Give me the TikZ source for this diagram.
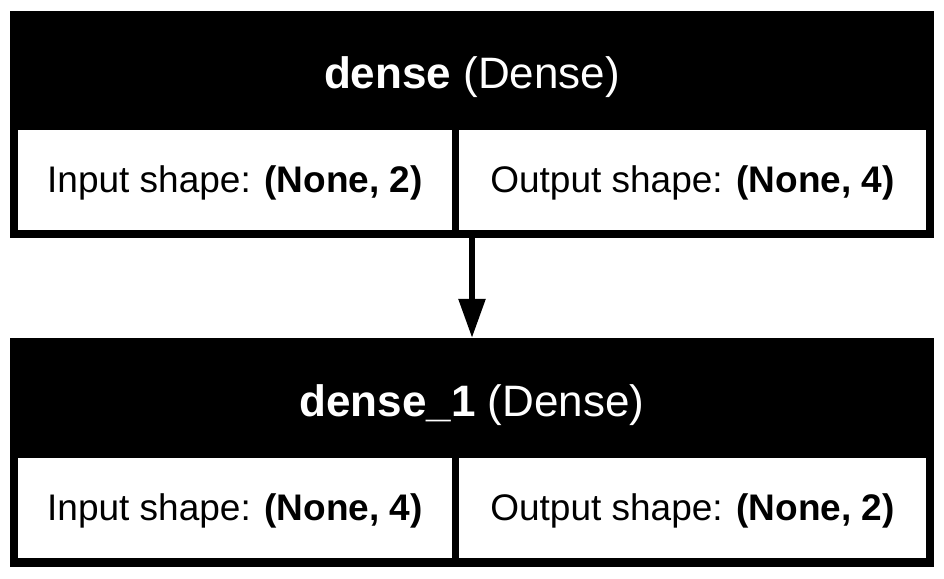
\documentclass[tikz,border=0pt]{standalone}
\usepackage{fontspec}
\setmainfont{Liberation Sans}
\usetikzlibrary{arrows.meta}

\tikzset{
  layerbox/.style={rectangle, fill=black, draw=none, inner sep=0pt,
    minimum width=924pt, anchor=center},
  cellbox/.style={rectangle, fill=white, draw=none, inner sep=0pt,
    minimum height=100pt, anchor=center},
  celltext/.style={inner sep=0pt, anchor=center, text=black,
    font=\fontsize{37}{44}\selectfont},
  titletext/.style={inner sep=0pt, anchor=center, text=white,
    font=\fontsize{44}{52}\selectfont},
  flow/.style={line width=5.7pt, -{Triangle[width=26pt,length=39pt]}}
}

\begin{document}
\begin{tikzpicture}[x=1pt,y=-1pt]
  \useasboundingbox[fill=white] (0,0) rectangle (944,578);

  % first layer
  \node[layerbox, minimum height=227pt] (l1) at (472,124.5) {};
  \node[titletext] (t1) at (472,77.5) {\textbf{dense} (Dense)};
  \node[cellbox, minimum width=434pt] (in1) at (235,180) {};
  \node[cellbox, minimum width=467pt] (out1) at (692.5,180) {};
  \node[celltext] (in1t) at (235,183) {Input shape: \textbf{(None, 2)}};
  \node[celltext] (out1t) at (692.5,183) {Output shape: \textbf{(None, 4)}};

  % second layer
  \node[layerbox, minimum height=229pt] (l2) at (472,452.5) {};
  \node[titletext] (t2) at (472,405) {\textbf{dense\_1} (Dense)};
  \node[cellbox, minimum width=434pt] (in2) at (235,508) {};
  \node[cellbox, minimum width=467pt] (out2) at (692.5,508) {};
  \node[celltext] (in2t) at (235,511) {Input shape: \textbf{(None, 4)}};
  \node[celltext] (out2t) at (692.5,511) {Output shape: \textbf{(None, 2)}};

  % connection between the layers
  \draw[flow] (l1.south) -- (l2.north);
\end{tikzpicture}
\end{document}
